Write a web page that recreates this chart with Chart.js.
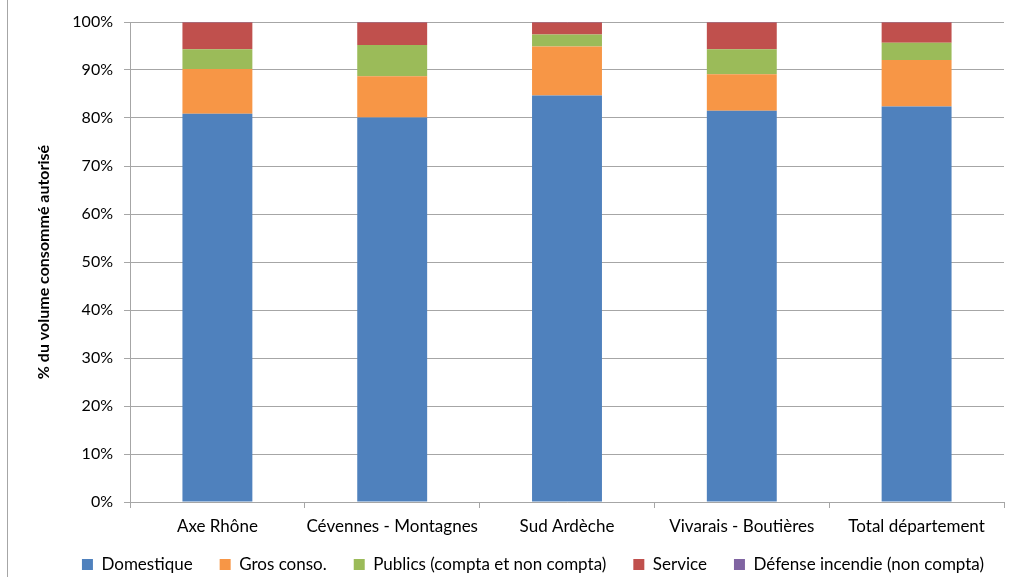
<!DOCTYPE html>
<html>
<head>
<meta charset="utf-8">
<script src="https://cdn.jsdelivr.net/npm/chart.js@4/dist/chart.umd.min.js"></script>
<style>
  body { margin: 0; background: #fff; }
  .frame { position: relative; width: 1013px; height: 577px; }
  .frame::before { content: ""; position: absolute; left: 7px; top: 0; bottom: 0; border-left: 1px solid #a6a6a6; }
</style>
</head>
<body>
<div class="frame"><canvas id="chart" width="1013" height="577"></canvas></div>
<script>
const categories = ["Axe Rhône", "Cévennes - Montagnes", "Sud Ardèche", "Vivarais - Boutières", "Total département"]

const domestique = [80.9, 80.1, 84.7, 81.5, 82.4]
const grosConso = [9.3, 8.6, 10.2, 7.6, 9.7]
const publics = [4.1, 6.5, 2.5, 5.2, 3.6]
const service = [5.6, 4.7, 2.5, 5.6, 4.2]
const defense = [0.1, 0.1, 0.1, 0.1, 0.1]

const yTicks = [0, 10, 20, 30, 40, 50, 60, 70, 80, 90, 100]

const font = "Lato, 'Open Sans', sans-serif"
const gridColor = "#a6a6a6"

const serie = (label, data, color) => ({
    label,
    data,
    backgroundColor: color,
    borderWidth: 0,
    categoryPercentage: 0.4,
    barPercentage: 1
})

// legend box kept short so the plot reaches down like the original,
// then nudged right/down to sit where the Excel legend sits
const legendPlacement = {
    id: "legendPlacement",
    beforeLayout(chart) {
        const legend = chart.legend
        if (!legend || legend._patched) return
        const fit = legend.fit.bind(legend)
        legend.fit = function () {
            fit()
            this.height = 52
        }
        legend._patched = true
    },
    afterLayout(chart) {
        const legend = chart.legend
        legend.left += 31
        legend.right += 31
        legend.top += 8
        legend.bottom += 8
    }
}

new Chart(document.getElementById("chart"), {
    type: "bar",
    data: {
        labels: categories,
        datasets: [
            serie("Domestique", domestique, "#4f81bd"),
            serie("Gros conso.", grosConso, "#f79646"),
            serie("Publics (compta et non compta)", publics, "#9bbb59"),
            serie("Service", service, "#c0504d"),
            serie("Défense incendie (non compta)", defense, "#8064a2")
        ]
    },
    plugins: [legendPlacement],
    options: {
        responsive: false,
        animation: false,
        layout: { padding: { top: 22, right: 9, left: 0, bottom: 4 } },
        plugins: {
            tooltip: { enabled: false },
            legend: {
                position: "bottom",
                labels: {
                    color: "#000",
                    font: { family: font, size: 17 },
                    boxWidth: 11,
                    boxHeight: 11,
                    padding: 27
                }
            }
        },
        scales: {
            x: {
                stacked: true,
                afterFit: (scale) => {
                    scale.height = 19
                    // let the category labels spill below the short scale box
                    scale._computeLabelArea = () => undefined
                },
                grid: {
                    offset: true,
                    drawOnChartArea: false,
                    color: gridColor,
                    tickLength: 6
                },
                border: { color: gridColor },
                ticks: {
                    color: "#000",
                    padding: 8,
                    autoSkip: false,
                    minRotation: 0,
                    maxRotation: 0,
                    font: { family: font, size: 17 }
                }
            },
            y: {
                stacked: true,
                min: 0,
                max: 100,
                afterFit: (scale) => { scale.width = 130 },
                afterBuildTicks: (scale) => { scale.ticks = yTicks.map(value => ({ value })) },
                grid: { color: gridColor, tickLength: 6 },
                border: { color: gridColor },
                ticks: {
                    color: "#000",
                    padding: 11,
                    font: { family: font, size: 16 },
                    callback: (value) => value + "%"
                },
                title: {
                    display: true,
                    text: "% du volume consommé autorisé",
                    color: "#000",
                    font: { family: font, size: 16, weight: "bold" },
                    padding: { top: 34, bottom: 0 }
                }
            }
        }
    }
})
</script>
</body>
</html>
